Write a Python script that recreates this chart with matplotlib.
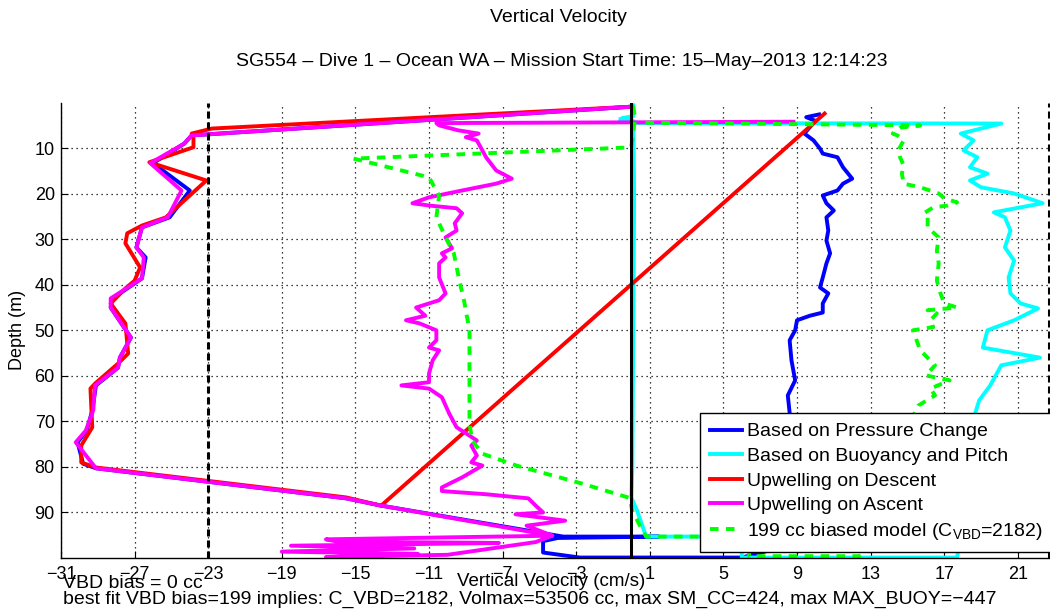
import numpy as np
import matplotlib
matplotlib.use('Agg')
import matplotlib.pyplot as plt

plt.rcParams['font.family'] = ['Liberation Sans', 'DejaVu Sans']
plt.rcParams['mathtext.fontset'] = 'custom'
plt.rcParams['mathtext.rm'] = 'Liberation Sans'
plt.rcParams['mathtext.it'] = 'Liberation Sans:italic'
plt.rcParams['xtick.direction'] = 'in'
plt.rcParams['ytick.direction'] = 'in'

# (depth m, vertical velocity cm/s) along the dive
pressure = np.array([
    (0.9, 0.0), (7.2, -23.9), (9.0, -24.3), (13.3, -26.0), (19.3, -24.0),
    (25.2, -25.1), (27.4, -26.6), (31.8, -26.9), (34.0, -26.4), (38.6, -26.6),
    (43.0, -28.2), (45.0, -28.3), (51.6, -27.2), (56.0, -27.8), (58.2, -27.9),
    (62.1, -29.1), (67.6, -29.3), (72.0, -29.6), (74.6, -30.1), (79.3, -29.8),
    (80.3, -29.1), (86.9, -15.5), (88.5, -13.6), (95.3, -3.7), (95.3, 1.5),
    (95.6, -4.0), (96.3, -4.8), (98.8, -4.8), (99.9, -2.8), (99.9, 6.0),
    (97.0, 8.8), (90.0, 9.0), (80.0, 8.7), (72.0, 8.6), (68.1, 8.6),
    (64.3, 8.5), (61.0, 8.9), (56.6, 8.7), (52.2, 8.6), (50.0, 8.9),
    (47.8, 9.0), (46.8, 9.7), (46.1, 10.4), (44.1, 10.4), (41.9, 10.7),
    (40.6, 10.25), (38.4, 10.4), (35.3, 10.6), (33.1, 10.8), (30.3, 10.6),
    (28.1, 10.7), (25.2, 10.6), (23.7, 11.0), (22.1, 10.6), (20.4, 10.4),
    (19.3, 11.2), (17.8, 11.5), (16.7, 12.0), (14.2, 11.5), (12.0, 11.2),
    (11.2, 10.4), (10.1, 10.25), (8.3, 9.9), (6.8, 9.4), (4.0, 10.0),
    (3.2, 9.5), (2.6, 10.2),
])

buoyancy = np.array([
    (0.6, 0.1), (3.0, 0.1), (3.4, -0.5), (4.0, 0.1), (20.0, 0.15),
    (50.0, 0.1), (80.0, 0.05), (86.8, 0.0), (89.5, 0.3), (95.3, 0.8),
    (95.3, 13.0), (98.2, 6.0), (99.9, 6.0), (99.9, 17.7), (97.5, 17.8),
    (90.0, 18.0), (80.0, 18.3), (68.0, 18.7), (65.4, 18.9), (62.1, 19.5),
    (57.7, 20.1), (56.0, 22.2), (53.8, 19.1), (50.0, 19.35), (47.8, 20.8),
    (45.2, 22.1), (44.1, 21.15), (41.9, 20.6), (38.4, 20.5), (34.7, 20.8),
    (31.8, 20.3), (28.1, 20.6), (25.2, 20.3), (24.1, 19.7), (22.1, 22.35),
    (19.95, 20.8), (18.6, 19.0), (17.1, 18.4), (15.6, 19.35), (14.2, 18.4),
    (12.0, 18.8), (10.5, 18.05), (8.3, 18.6), (6.8, 17.9), (4.6, 20.1),
    (4.5, 0.4), (3.7, -0.6),
])

upwell_descent = np.array([
    (0.9, 0.0), (5.7, -22.8), (6.8, -23.9), (7.6, -23.8), (9.8, -23.8),
    (13.1, -26.2), (17.1, -23.1), (22.6, -24.6), (25.2, -25.3), (27.0, -26.6),
    (28.7, -27.4), (30.9, -27.5), (36.2, -26.7), (39.1, -27.0), (40.8, -27.5),
    (44.1, -28.3), (48.5, -27.5), (55.1, -27.35), (57.3, -27.9), (61.7, -29.15),
    (62.8, -29.4), (71.3, -29.3), (75.3, -29.9), (79.0, -29.9), (80.1, -29.15),
    (86.7, -15.5), (88.5, -13.6), (2.4, 10.5),
])

upwell_ascent = np.array([
    (0.9, 0.0), (7.2, -23.9), (9.0, -24.3), (13.3, -26.15), (19.3, -24.45),
    (25.2, -25.2), (27.4, -26.6), (31.8, -26.9), (34.0, -26.5), (38.6, -26.6),
    (43.0, -28.3), (45.0, -28.3), (51.6, -27.2), (56.0, -27.8), (58.2, -27.9),
    (62.1, -29.15), (67.6, -29.25), (72.0, -29.65), (74.6, -30.2), (80.3, -29.1),
    (86.9, -15.5), (88.5, -13.6), (95.1, -4.3),
    (95.9, -16.6), (96.4, -16.0), (96.7, -7.2), (97.3, -18.5), (97.9, -11.8),
    (98.6, -19.0), (99.1, -11.6), (99.8, -16.6), (99.3, -10.0), (96.5, -5.2),
    (95.1, -4.3), (92.9, -5.7), (91.8, -3.6), (90.4, -6.3), (90.0, -4.8),
    (88.5, -5.2), (86.9, -5.6), (86.0, -7.9), (85.3, -10.3), (84.5, -10.3),
    (82.3, -9.2), (79.7, -8.1), (79.0, -8.7), (77.5, -8.4), (75.3, -8.7),
    (74.2, -8.4), (72.6, -9.0), (71.3, -9.5), (68.3, -9.9), (64.7, -10.3),
    (62.8, -11.0), (62.1, -12.5), (61.4, -11.0), (59.5, -11.0), (56.6, -10.8),
    (54.4, -10.45), (53.8, -11.0), (52.2, -10.6), (50.0, -10.6), (48.5, -11.5),
    (47.8, -12.25), (46.8, -11.2), (45.0, -11.7), (43.4, -10.45), (41.9, -10.1),
    (38.4, -10.45), (35.3, -10.45), (34.0, -10.1), (33.1, -10.3), (32.0, -9.75),
    (29.6, -10.1), (28.1, -9.5), (26.5, -9.6), (24.3, -9.2), (23.2, -9.5),
    (22.6, -11.0), (22.1, -11.9), (20.8, -11.0), (19.3, -9.2), (17.8, -7.35),
    (16.7, -6.5), (14.9, -7.35), (12.0, -7.9), (10.5, -8.1), (8.3, -8.4),
    (7.6, -9.0), (6.8, -8.3), (6.1, -9.4), (5.0, -10.45), (4.5, -10.6),
    (4.2, 8.8),
])

biased_model = np.array([
    (0.8, 0.1), (3.5, 0.2), (9.6, 0.0), (9.85, -0.1), (12.3, -15.1),
    (16.4, -11.0), (20.4, -10.45), (25.2, -10.6), (29.6, -10.1), (33.1, -9.65),
    (39.1, -9.35), (43.4, -9.1), (50.0, -8.8), (58.2, -8.8), (70.5, -8.8),
    (74.2, -8.65), (77.1, -8.1), (79.7, -6.25), (83.7, -2.65), (86.8, -0.1),
    (89.6, 0.05), (94.0, 0.6), (95.3, 0.83), (95.3, 13.5), (98.3, 6.4),
    (99.6, 6.4), (99.6, 12.4), (97.0, 13.5), (88.0, 14.5), (78.0, 15.0),
    (68.1, 15.4), (66.5, 15.6), (64.3, 16.5), (62.8, 16.25), (61.0, 17.3),
    (59.9, 16.0), (57.7, 16.5), (54.4, 15.7), (52.2, 15.5), (50.0, 15.3),
    (49.3, 16.4), (47.8, 16.25), (46.3, 16.6), (45.6, 16.1), (45.0, 17.7),
    (44.1, 17.0), (41.9, 16.8), (39.1, 16.6), (35.3, 16.7), (32.5, 16.6),
    (29.6, 16.7), (27.4, 16.1), (25.2, 16.1), (24.3, 15.9), (23.0, 16.4),
    (22.6, 17.2), (21.9, 17.7), (21.0, 17.0), (19.95, 16.7), (18.6, 15.7),
    (17.8, 14.8), (15.6, 14.7), (13.8, 14.8), (12.0, 14.6), (10.5, 14.5),
    (8.3, 14.8), (7.2, 14.45), (6.8, 14.2), (5.5, 14.6), (5.0, 15.7),
    (4.4, 0.5),
])

max_speeds = [-23, 22.7]
xticks = list(range(-31, 22, 4))
yticks = list(range(10, 100, 10))

series_labels = ['Based on Pressure Change', 'Based on Buoyancy and Pitch',
                 'Upwelling on Descent', 'Upwelling on Ascent',
                 r'199 cc biased model (C$_{\mathrm{VBD}}$=2182)']

fig = plt.figure(figsize=(10.5, 6.11), dpi=100)
W, H = 1050., 611.
# axes box in pixels: left 61, right 1050, top 102.6, bottom 558
ax = fig.add_axes([61/W, (H-558)/H, 989/W, 455.4/H])

lw = 2.8
ax.plot(pressure[:, 1], pressure[:, 0], color='#0000ff', lw=lw, label=series_labels[0])
ax.plot(buoyancy[:, 1], buoyancy[:, 0], color='#00ffff', lw=lw, label=series_labels[1])
ax.plot(upwell_descent[:, 1], upwell_descent[:, 0], color='#ff0000', lw=lw, label=series_labels[2])
ax.plot(upwell_ascent[:, 1], upwell_ascent[:, 0], color='#ff00ff', lw=lw, label=series_labels[3])
ax.plot(biased_model[:, 1], biased_model[:, 0], color='#00ff00', lw=lw,
        dashes=(2.2, 1.9), label=series_labels[4])

# zero line and max speed markers
ax.axvline(0, color='k', lw=2.2, zorder=5)
for s in max_speeds:
    ax.axvline(s, color='k', lw=2.2, dashes=(2.3, 1.3), zorder=5)

ax.set_xlim(-31, 22.75)
ax.set_ylim(100, 0)
ax.set_xticks(xticks)
ax.set_yticks(yticks)
ax.tick_params(labelsize=13, length=5, width=0.8, colors='k')
ax.tick_params(axis='x', pad=6)
ax.tick_params(axis='y', pad=4.5)
ax.grid(True, color='k', lw=0.9, dashes=(1, 3))
ax.set_axisbelow(True)
ax.spines['top'].set_visible(False)
ax.spines['right'].set_visible(False)
for sp in ('left', 'bottom'):
    ax.spines[sp].set_linewidth(1.0)

ax.set_xlabel('Vertical Velocity (cm/s)', fontsize=13.5)
ax.xaxis.set_label_coords((551-61)/989., (558-581)/455.4)
ax.xaxis.label.set_verticalalignment('center')
ax.set_ylabel('Depth (m)', fontsize=13)
ax.yaxis.set_label_coords((18-61)/989., 0.5)
ax.yaxis.label.set_verticalalignment('center')

leg = ax.legend(loc='lower left', bbox_to_anchor=((700-61)/989., (558-552)/455.4),
                borderaxespad=0, fontsize=14, frameon=True, fancybox=False,
                framealpha=1, edgecolor='k', labelspacing=0.36, handlelength=1.65,
                handletextpad=0.25, borderpad=0.5)
leg.get_frame().set_linewidth(1.0)

fig.text(558/W, 1-17/H, 'Vertical Velocity', ha='center', va='center', fontsize=14)
fig.text(562/W, 1-61/H,
         'SG554 – Dive 1 – Ocean WA – Mission Start Time: 15–May–2013 12:14:23',
         ha='center', va='center', fontsize=14)
fig.text(63/W, 1-583/H, 'VBD bias = 0 cc', ha='left', va='center', fontsize=14)
fig.text(63/W, 1-599/H,
         'best fit VBD bias=199 implies: C_VBD=2182, Volmax=53506 cc, '
         'max SM_CC=424, max MAX_BUOY=−447',
         ha='left', va='center', fontsize=14)

fig.savefig('out.png', dpi=100)
